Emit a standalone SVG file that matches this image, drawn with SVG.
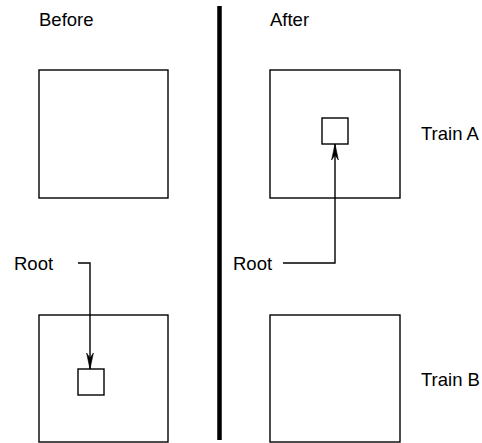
<svg xmlns="http://www.w3.org/2000/svg" width="482" height="443" viewBox="0 0 482 443">
<style>
.box{fill:none;stroke:#000;stroke-width:1.4}
.ln{fill:none;stroke:#000;stroke-width:1.4}
.t{font-family:"Liberation Sans",Arial,sans-serif;font-size:18.5px;fill:#000}
</style>
<defs>
<marker id="ah" viewBox="0 0 16 8" refX="16" refY="4" markerWidth="16" markerHeight="8" markerUnits="userSpaceOnUse" orient="auto">
<path d="M0,0.6 L16,4 L0,7.4 L5,4 Z" fill="#000" stroke="#000" stroke-width="0.6" stroke-linejoin="round"/>
</marker>
</defs>
<rect width="482" height="443" fill="#fff"/>
<line x1="219.5" y1="6" x2="219.5" y2="440" stroke="#000" stroke-width="4.5"/>
<text class="t" x="39" y="26">Before</text>
<text class="t" x="270" y="26">After</text>
<g id="before-top"><rect class="box" x="39" y="70" width="129" height="128"/></g>
<g id="before-bottom"><rect class="box" x="39" y="315" width="129" height="127"/></g>
<g id="before-root-node"><rect class="box" x="78" y="369" width="26" height="26"/></g>
<g id="before-root"><text class="t" x="14" y="270">Root</text></g>
<g id="after-top"><rect class="box" x="270" y="70" width="130" height="128"/></g>
<g id="after-root-node"><rect class="box" x="322" y="118" width="26" height="26"/></g>
<g id="after-bottom"><rect class="box" x="270" y="315" width="130" height="127"/></g>
<g id="after-root"><text class="t" x="233" y="270">Root</text></g>
<g id="train-a"><text class="t" x="421" y="140">Train A</text></g>
<g id="train-b"><text class="t" x="421" y="386">Train B</text></g>
<g id="connectors">
<path class="ln" d="M78,263 H90 V369" marker-end="url(#ah)"/>
<path class="ln" d="M283,263 H335 V144" marker-end="url(#ah)"/>
</g>
</svg>
